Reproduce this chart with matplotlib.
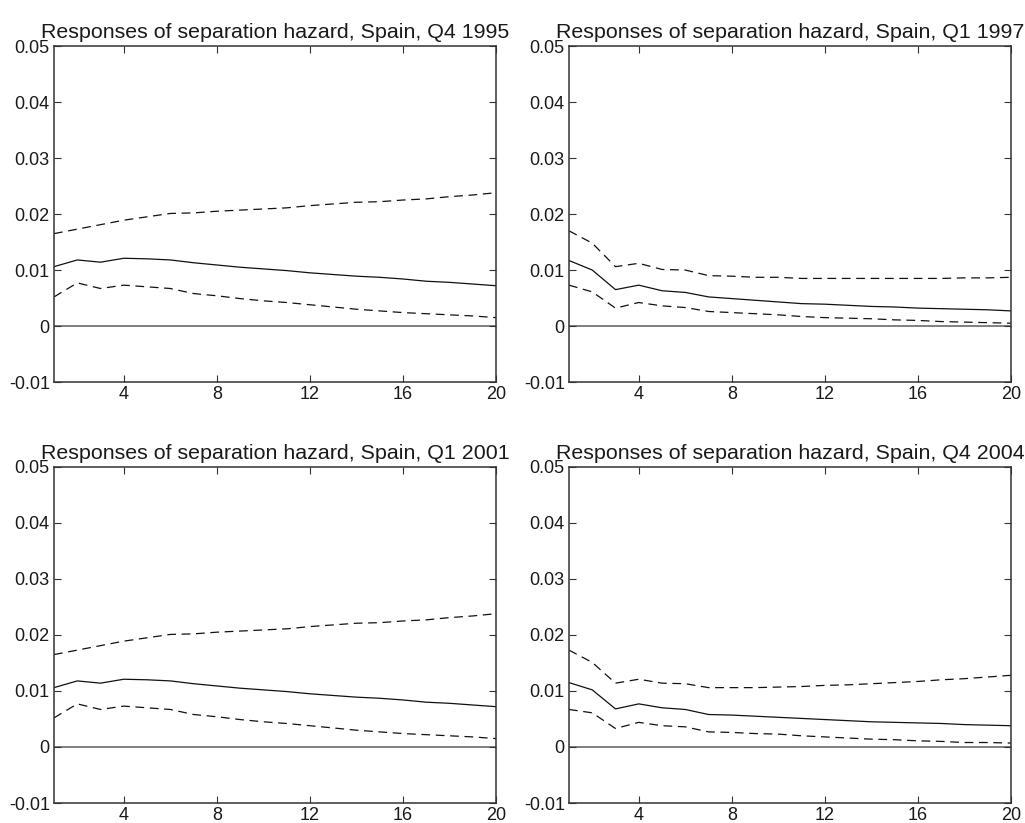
import matplotlib
matplotlib.use("Agg")
import matplotlib.pyplot as plt

plt.rcParams['font.family'] = ['Liberation Sans', 'DejaVu Sans']

horizon = list(range(1, 21))
titles = ["Responses of separation hazard, Spain, Q4 1995",
          "Responses of separation hazard, Spain, Q1 1997",
          "Responses of separation hazard, Spain, Q1 2001",
          "Responses of separation hazard, Spain, Q4 2004"]

# Q4 1995
irf_95 = [0.0106, 0.0118, 0.0114, 0.0121, 0.0120, 0.0118, 0.0113, 0.0109, 0.0105, 0.0102,
          0.0099, 0.0095, 0.0092, 0.0089, 0.0087, 0.0084, 0.0080, 0.0078, 0.0075, 0.0072]
up_95 = [0.0165, 0.0173, 0.0181, 0.0189, 0.0195, 0.0201, 0.0202, 0.0205, 0.0207, 0.0209,
         0.0211, 0.0215, 0.0218, 0.0221, 0.0222, 0.0225, 0.0227, 0.0231, 0.0234, 0.0238]
lo_95 = [0.0052, 0.0077, 0.0067, 0.0073, 0.0070, 0.0067, 0.0058, 0.0054, 0.0049, 0.0045,
         0.0042, 0.0038, 0.0034, 0.0030, 0.0027, 0.0024, 0.0022, 0.0020, 0.0018, 0.0015]

# Q1 1997
irf_97 = [0.0117, 0.0100, 0.0065, 0.0073, 0.0063, 0.0060, 0.0052, 0.0049, 0.0046, 0.0043,
          0.0040, 0.0039, 0.0037, 0.0035, 0.0034, 0.0032, 0.0031, 0.0030, 0.0029, 0.0027]
up_97 = [0.0170, 0.0148, 0.0106, 0.0112, 0.0101, 0.0100, 0.0090, 0.0089, 0.0087, 0.0087,
         0.0085, 0.0085, 0.0085, 0.0085, 0.0085, 0.0085, 0.0085, 0.0086, 0.0086, 0.0087]
lo_97 = [0.0073, 0.0061, 0.0032, 0.0042, 0.0036, 0.0033, 0.0026, 0.0024, 0.0022, 0.0020,
         0.0017, 0.0015, 0.0014, 0.0013, 0.0011, 0.0010, 0.0008, 0.0007, 0.0006, 0.0005]

# Q1 2001 (same shape as Q4 1995)
irf_01 = [0.0106, 0.0118, 0.0114, 0.0121, 0.0120, 0.0118, 0.0113, 0.0109, 0.0105, 0.0102,
          0.0099, 0.0095, 0.0092, 0.0089, 0.0087, 0.0084, 0.0080, 0.0078, 0.0075, 0.0072]
up_01 = [0.0165, 0.0173, 0.0181, 0.0189, 0.0195, 0.0201, 0.0202, 0.0205, 0.0207, 0.0209,
         0.0211, 0.0215, 0.0218, 0.0221, 0.0222, 0.0225, 0.0227, 0.0231, 0.0234, 0.0238]
lo_01 = [0.0052, 0.0077, 0.0067, 0.0073, 0.0070, 0.0067, 0.0058, 0.0054, 0.0049, 0.0045,
         0.0042, 0.0038, 0.0034, 0.0030, 0.0027, 0.0024, 0.0022, 0.0020, 0.0018, 0.0015]

# Q4 2004
irf_04 = [0.0115, 0.0102, 0.0068, 0.0077, 0.0070, 0.0067, 0.0058, 0.0057, 0.0055, 0.0053,
          0.0051, 0.0049, 0.0047, 0.0045, 0.0044, 0.0043, 0.0042, 0.0040, 0.0039, 0.0038]
up_04 = [0.0173, 0.0151, 0.0114, 0.0121, 0.0114, 0.0113, 0.0106, 0.0106, 0.0106, 0.0107,
         0.0108, 0.0110, 0.0111, 0.0113, 0.0115, 0.0117, 0.0120, 0.0122, 0.0125, 0.0128]
lo_04 = [0.0067, 0.0061, 0.0033, 0.0044, 0.0038, 0.0036, 0.0027, 0.0026, 0.0024, 0.0023,
         0.0020, 0.0018, 0.0016, 0.0014, 0.0013, 0.0011, 0.0010, 0.0008, 0.0008, 0.0007]

panels = [(irf_95, up_95, lo_95), (irf_97, up_97, lo_97),
          (irf_01, up_01, lo_01), (irf_04, up_04, lo_04)]

fig = plt.figure(figsize=(10.25, 8.23), dpi=100)
boxes = [[0.0527, 0.5358, 0.4312, 0.4083], [0.5551, 0.5358, 0.4312, 0.4083],
         [0.0527, 0.0243, 0.4312, 0.4083], [0.5551, 0.0243, 0.4312, 0.4083]]

txt = '#1a1a1a'
for box, ttl, (irf, up, lo) in zip(boxes, titles, panels):
    ax = fig.add_axes(box)
    ax.axhline(0, color='#6a6a6a', lw=1.2, zorder=1)
    ax.plot(horizon, irf, color='#111111', lw=0.9)
    ax.plot(horizon, up, color='#111111', lw=0.9, dashes=(7, 4.5))
    ax.plot(horizon, lo, color='#111111', lw=0.9, dashes=(7, 4.5))
    ax.set_xlim(1, 20)
    ax.set_ylim(-0.01, 0.05)
    ax.set_xticks([4, 8, 12, 16, 20])
    ax.set_yticks([-0.01, 0, 0.01, 0.02, 0.03, 0.04, 0.05])
    ax.set_yticklabels(['-0.01', '0', '0.01', '0.02', '0.03', '0.04', '0.05'])
    ax.tick_params(direction='in', length=5, width=0.8, top=True, right=True,
                   labelsize=13, pad=3, colors='#333333', labelcolor=txt)
    for s in ax.spines.values():
        s.set_color('#333333')
        s.set_linewidth(1.1)
    ax.set_title(ttl, fontsize=15.4, color=txt, pad=6)

fig.savefig('out.png', dpi=100)
